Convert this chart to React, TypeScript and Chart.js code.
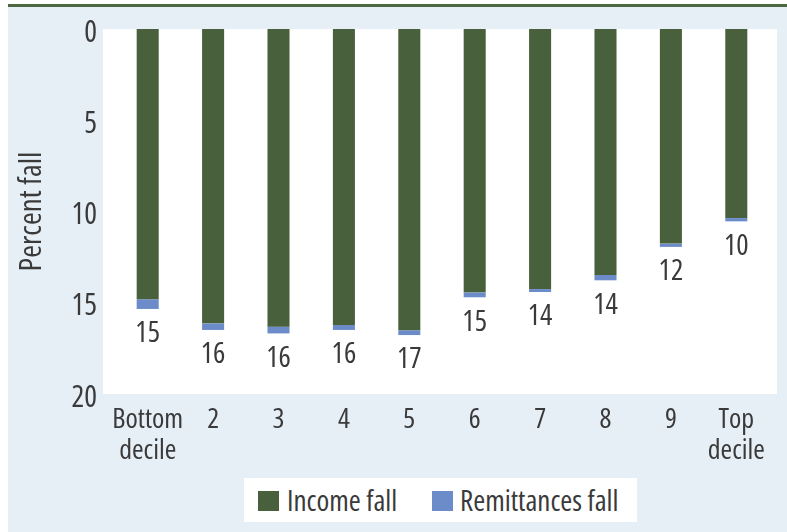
import React, { useEffect, useRef } from "react";
import { Chart, registerables } from "chart.js";

Chart.register(...registerables);

const categories: (string | string[])[] = [
  ["Bottom", "decile"], "2", "3", "4", "5", "6", "7", "8", "9", ["Top", "decile"],
];
const incomeFall = [14.81, 16.13, 16.31, 16.22, 16.51, 14.43, 14.25, 13.48, 11.76, 10.36];
const remittancesFall = [0.53, 0.36, 0.37, 0.27, 0.26, 0.27, 0.16, 0.29, 0.18, 0.18];
const totalLabels = [15, 16, 16, 16, 17, 15, 14, 14, 12, 10];
const seriesNames = ["Income fall", "Remittances fall"];
const yAxisTitle = "Percent fall";

const GREEN = "#48603c";
const BLUE = "#6b8cc9";
const BG = "#e6eef6";
const RULE = "#4d6740";
const TEXT = "#3a3a3a";
const FAMILY = "'Open Sans', 'Roboto', sans-serif";
const STRETCH = "condensed";

const backgroundPlugin = {
  id: "panelBackground",
  beforeDraw(chart: any) {
    const { ctx, width, height } = chart;
    const { left, right, top, bottom } = chart.chartArea;
    ctx.save();
    ctx.fillStyle = BG;
    ctx.fillRect(8, 7, width - 8, height - 7);
    ctx.fillStyle = RULE;
    ctx.fillRect(8, 4, width - 8, 3);
    ctx.fillStyle = "#ffffff";
    ctx.fillRect(left - 12, top, right - left + 20, bottom - top);
    ctx.restore();
  },
};

const totalLabelPlugin = {
  id: "totalLabels",
  afterDatasetsDraw(chart: any) {
    const { ctx } = chart;
    const meta = chart.getDatasetMeta(1);
    ctx.save();
    ctx.fillStyle = TEXT;
    ctx.font = `${STRETCH} 29px ${FAMILY}`;
    ctx.textAlign = "center";
    ctx.textBaseline = "middle";
    meta.data.forEach((el: any, i: number) => {
      ctx.fillText(String(totalLabels[i]), el.x, el.y + 25);
    });
    ctx.restore();
  },
};

export default function App() {
  const ref = useRef<HTMLCanvasElement | null>(null);

  useEffect(() => {
    if (!ref.current) return;
    const chart = new Chart(ref.current, {
      type: "bar",
      data: {
        labels: categories as any,
        datasets: [
          {
            label: seriesNames[0],
            data: incomeFall,
            backgroundColor: GREEN,
            barPercentage: 0.337,
            categoryPercentage: 1,
          },
          {
            label: seriesNames[1],
            data: remittancesFall,
            backgroundColor: BLUE,
            barPercentage: 0.337,
            categoryPercentage: 1,
          },
        ],
      },
      options: {
        responsive: false,
        animation: false,
        layout: { padding: { top: 29, left: 0, right: 18, bottom: 68 } },
        plugins: {
          legend: { display: false },
          tooltip: { enabled: false },
        },
        scales: {
          x: {
            stacked: true,
            grid: { display: false },
            border: { display: false },
            ticks: {
              color: TEXT,
              font: { family: FAMILY, weight: STRETCH as any, size: 28, lineHeight: 1.09 },
              padding: 3,
              maxRotation: 0,
              autoSkip: false,
            },
            afterFit(scale: any) {
              scale.height = 70;
              scale.paddingLeft = 0;
              scale.paddingRight = 0;
            },
          },
          y: {
            stacked: true,
            reverse: true,
            min: 0,
            max: 20,
            grid: { display: false, drawTicks: false },
            border: { display: false },
            ticks: {
              stepSize: 5,
              color: TEXT,
              font: { family: FAMILY, weight: STRETCH as any, size: 30 },
              padding: 18,
              labelOffset: 4,
            },
            title: {
              display: true,
              text: yAxisTitle,
              color: TEXT,
              font: { family: FAMILY, weight: STRETCH as any, size: 31, lineHeight: 1.2 },
              padding: { top: 14, bottom: 0 },
            },
            afterFit(scale: any) {
              scale.width = 115;
              scale.paddingTop = 0;
              scale.paddingBottom = 0;
            },
          },
        },
      },
      plugins: [backgroundPlugin, totalLabelPlugin],
    });
    return () => chart.destroy();
  }, []);

  const legendText: React.CSSProperties = {
    position: "absolute",
    top: 0,
    height: 44,
    lineHeight: "44px",
    fontFamily: FAMILY,
    fontStretch: STRETCH,
    fontSize: 29,
    color: TEXT,
    whiteSpace: "nowrap",
  };

  return (
    <div style={{ position: "absolute", left: 0, top: 0, width: 787, height: 532 }}>
      <canvas ref={ref} width={787} height={532} style={{ display: "block" }} />
      <div
        style={{
          position: "absolute",
          left: 244,
          top: 478,
          width: 393,
          height: 44,
          background: "#ffffff",
        }}
      >
        <div style={{ position: "absolute", left: 14, top: 13, width: 21, height: 20, background: GREEN }} />
        <div style={{ ...legendText, left: 43 }}>{seriesNames[0]}</div>
        <div style={{ position: "absolute", left: 188, top: 13, width: 21, height: 20, background: BLUE }} />
        <div style={{ ...legendText, left: 216 }}>{seriesNames[1]}</div>
      </div>
    </div>
  );
}
